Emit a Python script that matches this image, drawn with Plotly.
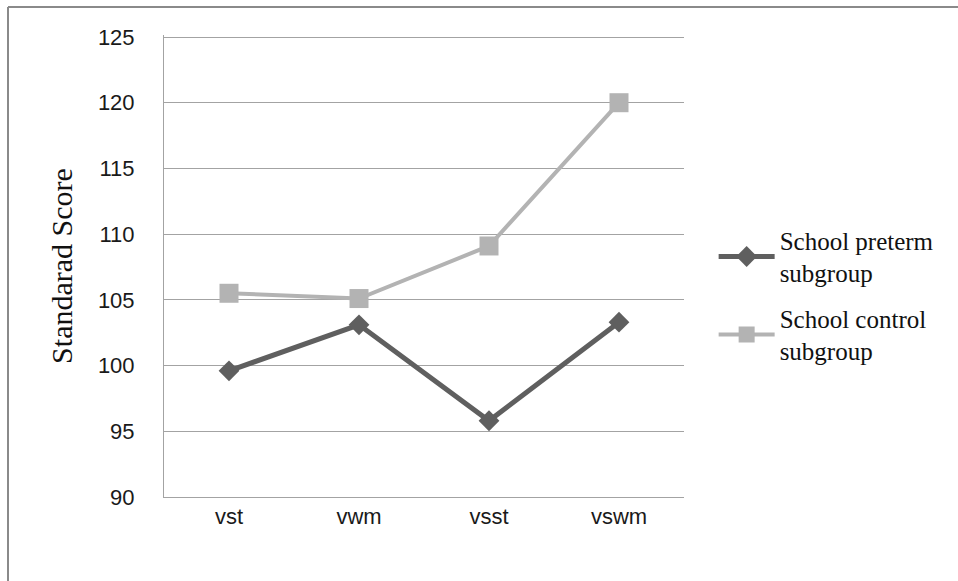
import plotly.graph_objects as go

# Subtest categories and mean standard scores per subgroup
categories = ["vst", "vwm", "vsst", "vswm"]
preterm_scores = [99.6, 103.1, 95.8, 103.3]
control_scores = [105.5, 105.1, 109.1, 120.0]
y_ticks = [90, 95, 100, 105, 110, 115, 120, 125]

PRETERM_COLOR = "#5f5f5f"
CONTROL_COLOR = "#b3b3b3"
GRID_COLOR = "#a3a3a3"

fig = go.Figure()

fig.add_trace(go.Scatter(
    x=categories, y=preterm_scores,
    mode="lines+markers",
    name="School preterm<br>subgroup",
    line=dict(color=PRETERM_COLOR, width=5),
    marker=dict(symbol="diamond", size=16, color=PRETERM_COLOR),
    legendgroup="a",
))
fig.add_trace(go.Scatter(
    x=categories, y=control_scores,
    mode="lines+markers",
    name="School control<br>subgroup",
    line=dict(color=CONTROL_COLOR, width=4),
    marker=dict(symbol="square", size=19, color=CONTROL_COLOR),
    legendgroup="b",
))

# plot area: 520 x 462 px, top-left corner at (164, 35); the y range is
# padded a little above 125 so that the top gridline stays visible
PW, PH, L, T = 520, 462, 164, 35
Y_MIN, Y_MAX = 90, 125.152

fig.update_layout(
    width=958, height=581,
    margin=dict(l=L, r=958 - L - PW, t=T, b=581 - T - PH),
    paper_bgcolor="white",
    plot_bgcolor="white",
    font=dict(family="Liberation Sans", color="#1a1a1a"),
    showlegend=True,
    legend=dict(
        x=1.057, y=0.605, xanchor="left", yanchor="top",
        font=dict(family="Liberation Serif", size=25, color="#111111"),
        traceorder="grouped",
        tracegroupgap=10,
        itemwidth=56,
        bgcolor="rgba(0,0,0,0)",
    ),
    xaxis=dict(
        type="category",
        range=[-0.5, 3.5],
        showline=True, linecolor=GRID_COLOR, linewidth=1,
        showgrid=False, ticks="",
        tickfont=dict(family="Liberation Sans", size=22),
    ),
    yaxis=dict(
        range=[Y_MIN, Y_MAX],
        tickvals=y_ticks,
        showline=True, linecolor=GRID_COLOR, linewidth=1,
        showgrid=True, gridcolor=GRID_COLOR, gridwidth=1,
        zeroline=False, ticks="",
        ticklabelstandoff=24,
        tickfont=dict(family="Liberation Sans", size=22),
        title=dict(text="Standarad Score",
                   font=dict(family="Liberation Serif", size=30, color="#111111"),
                   standoff=16),
    ),
    shapes=[
        # frame edges along the top and left of the figure
        dict(type="line", xref="paper", yref="paper",
             x0=(8 - L) / PW, x1=(960 - L) / PW,
             y0=1 + (T - 7) / PH, y1=1 + (T - 7) / PH,
             line=dict(color="#8a8a8a", width=2)),
        dict(type="line", xref="paper", yref="paper",
             x0=(8 - L) / PW, x1=(8 - L) / PW,
             y0=1 + (T - 7) / PH, y1=(T + PH - 590) / PH,
             line=dict(color="#8a8a8a", width=2)),
    ],
)

fig.write_html("out.html")
